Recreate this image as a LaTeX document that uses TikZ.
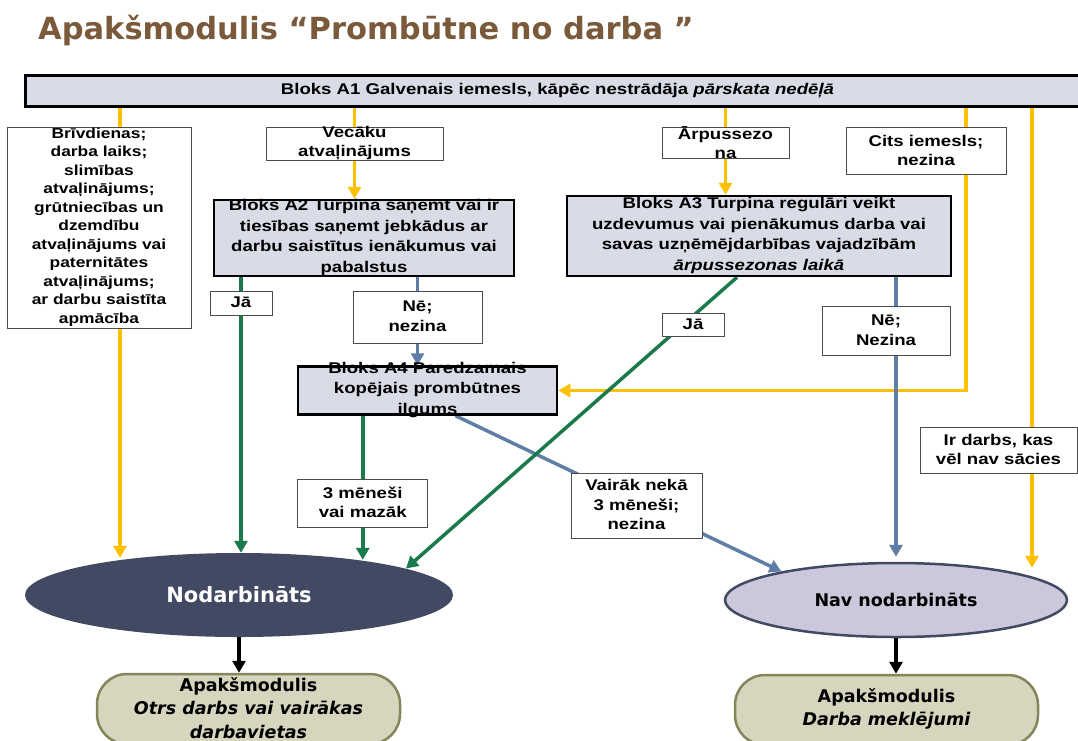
\documentclass[tikz,border=0pt]{standalone}
\usepackage{fontspec}
\setmainfont[FakeStretch=1.2]{Liberation Sans}
\newfontfamily\verdfont{DejaVu Sans}
\usetikzlibrary{arrows.meta,shapes.geometric,backgrounds}

\definecolor{titlebrown}{HTML}{7A5A3A}
\definecolor{gold}{HTML}{FFC000}
\definecolor{grn}{HTML}{1A7A4C}
\definecolor{blu}{HTML}{5F7EA6}
\definecolor{blokfill}{HTML}{D9DBE6}
\definecolor{slate}{HTML}{424A63}
\definecolor{lilac}{HTML}{CCC8DC}
\definecolor{olivefill}{HTML}{D6D5BE}
\definecolor{oliveline}{HTML}{85855C}

\newcommand{\boxtxt}[2]{\raisebox{-3pt}[0pt][0pt]{\parbox{#1}{\centering #2}}}

\tikzset{
  hdr/.style={draw=black, line width=3pt, fill=blokfill, minimum width=1065pt, minimum height=31pt, inner sep=0pt},
  blok/.style={draw=black, line width=2.5pt, fill=blokfill, inner sep=0pt},
  lbl/.style={draw=black!70, line width=1pt, fill=white, inner sep=0pt},
  sub/.style={draw=oliveline, line width=2.5pt, fill=olivefill, rounded corners=30pt, inner sep=0pt,
    minimum width=303pt, minimum height=70pt, font=\verdfont\bfseries\fontsize{17.5}{23.5}\selectfont},
  yl/.style={draw=gold, line width=3.5pt},
  gr/.style={draw=grn, line width=3.5pt},
  bl/.style={draw=blu, line width=3.5pt},
  tip/.style={-{Triangle[width=13pt,length=12pt]}},
}

\begin{document}
\begin{tikzpicture}[x=1pt, y=-1pt, font=\bfseries\fontsize{15.5}{19.5}\selectfont]
    \useasboundingbox (0,0) rectangle (1078,740);
    \clip (0,0) rectangle (1078,740);

    \node[anchor=base west, text=titlebrown, inner sep=0pt,
      font=\verdfont\bfseries\fontsize{30.5}{36}\selectfont] (title) at (38,39)
      {Apakšmodulis “Prombūtne no darba ”};

    \node[hdr] (a1) at (557.5,90.5) {Bloks A1 Galvenais iemesls, kāpēc nestrādāja \textit{pārskata nedēļā}};

    \node[lbl, minimum width=184pt, minimum height=201pt] (brv) at (99,227.5)
      {\boxtxt{180pt}{\fontsize{14.5}{18.5}\selectfont Brīvdienas;\\ darba laiks;\\ slimības\\ atvaļinājums;\\
       grūtniecības un\\ dzemdību\\ atvaļinājums vai\\ paternitātes\\ atvaļinājums;\\ ar darbu saistīta\\ apmācība}};
    \node[lbl, minimum width=177pt, minimum height=33pt] (vec) at (354.5,143.5)
      {\boxtxt{175pt}{Vecāku\\ atvaļinājums}};
    \node[lbl, minimum width=127pt, minimum height=31pt] (arp) at (725.5,143)
      {\boxtxt{125pt}{Ārpussezo\\ na}};
    \node[lbl, minimum width=160pt, minimum height=47pt] (cits) at (926,151)
      {\boxtxt{158pt}{Cits iemesls;\\ nezina}};

    \node[blok, minimum width=300pt, minimum height=76pt] (a2) at (364,238)
      {\boxtxt{298pt}{\fontsize{15.5}{20.5}\selectfont Bloks A2 Turpina saņemt vai ir\\ tiesības saņemt jebkādus ar\\
       darbu saistītus ienākumus vai\\ pabalstus}};
    \node[blok, minimum width=384pt, minimum height=80pt] (a3) at (759,236)
      {\boxtxt{382pt}{\fontsize{15.5}{20.5}\selectfont Bloks A3 Turpina regulāri veikt\\ uzdevumus vai pienākumus darba vai\\
       savas uzņēmējdarbības vajadzībām\\ \textit{ārpussezonas laikā}}};
    \node[blok, minimum width=259pt, minimum height=48pt] (a4) at (427.5,390.5)
      {\boxtxt{257pt}{\fontsize{15.5}{20.5}\selectfont Bloks A4 Paredzamais\\ kopējais prombūtnes\\ ilgums}};

    \node[lbl, minimum width=62pt, minimum height=24pt] (ja2) at (241,303) {\boxtxt{60pt}{Jā}};
    \node[lbl, minimum width=129pt, minimum height=52pt] (nez2) at (417.5,317) {\boxtxt{127pt}{Nē;\\ nezina}};
    \node[lbl, minimum width=62pt, minimum height=23pt] (ja3) at (693,324.5) {\boxtxt{60pt}{Jā}};
    \node[lbl, minimum width=128pt, minimum height=49pt] (nez3) at (886,331) {\boxtxt{126pt}{Nē;\\ Nezina}};
    \node[lbl, minimum width=130pt, minimum height=48pt] (men3) at (362.75,503) {\boxtxt{128pt}{3 mēneši\\ vai mazāk}};
    \node[lbl, minimum width=131pt, minimum height=65pt] (vair) at (636.5,505.5) {\boxtxt{129pt}{Vairāk nekā\\ 3 mēneši;\\ nezina}};
    \node[lbl, minimum width=157pt, minimum height=46pt] (irdarbs) at (998.5,450) {\boxtxt{155pt}{Ir darbs, kas\\ vēl nav sācies}};

    \node[ellipse, fill=slate, inner sep=0pt, minimum width=428pt, minimum height=84pt, text=white,
      font=\verdfont\bfseries\fontsize{21}{25}\selectfont] (nod) at (239,595) {Nodarbināts};
    \node[ellipse, fill=lilac, draw=slate, line width=2.5pt, inner sep=0pt, minimum width=342pt, minimum height=74pt,
      font=\verdfont\bfseries\fontsize{17.5}{21}\selectfont] (nav) at (896,600) {Nav nodarbināts};

    \node[sub] (sub1) at (248.5,709) {\boxtxt{300pt}{Apakšmodulis\\ \textit{Otrs darbs vai vairākas\\ darbavietas}}};
    \node[sub] (sub2) at (886.5,710) {\boxtxt{300pt}{Apakšmodulis\\ \textit{Darba meklējumi}}};

    \coordinate (ycol1) at (120,0);
    \coordinate (ycol4) at (966,0);
    \coordinate (ycol5) at (1032,0);

    \begin{pgfonlayer}{background}
        \draw[yl,tip] (ycol1 |- a1.south) -- ([yshift=-5pt]ycol1 |- nod.north);
        \draw[yl,tip] (vec |- a1.south) -- (vec |- a2.north);
        \draw[yl,tip] (arp |- a1.south) -- (arp |- a3.north);
        \draw[yl,tip] (ycol4 |- a1.south) |- (a4.east);
        \draw[yl,tip] (ycol5 |- a1.south) -- ([yshift=-6pt]ycol5 |- nav.north);

        \draw[bl,tip] (nez2 |- a2.south) -- (nez2 |- a4.north);
        \draw[bl,tip] ([xshift=28pt]a4.south) -- (nav.166);
        \draw[bl,tip] (nav |- a3.south) -- ([yshift=5pt]nav.north);

        \draw[gr,tip] (ja2 |- a2.south) -- (ja2 |- nod.north);
        \draw[gr,tip] (men3 |- a4.south) -- ([yshift=-7pt]men3 |- nod.north);
        \draw[gr,tip] ([xshift=-22pt]a3.south) -- (nod.9);

        \draw[line width=3.5pt,tip] (nod.south) -- (nod.south |- sub1.north);
        \draw[line width=3.5pt,tip] (nav.south) -- (nav.south |- sub2.north);
    \end{pgfonlayer}
\end{tikzpicture}
\end{document}
